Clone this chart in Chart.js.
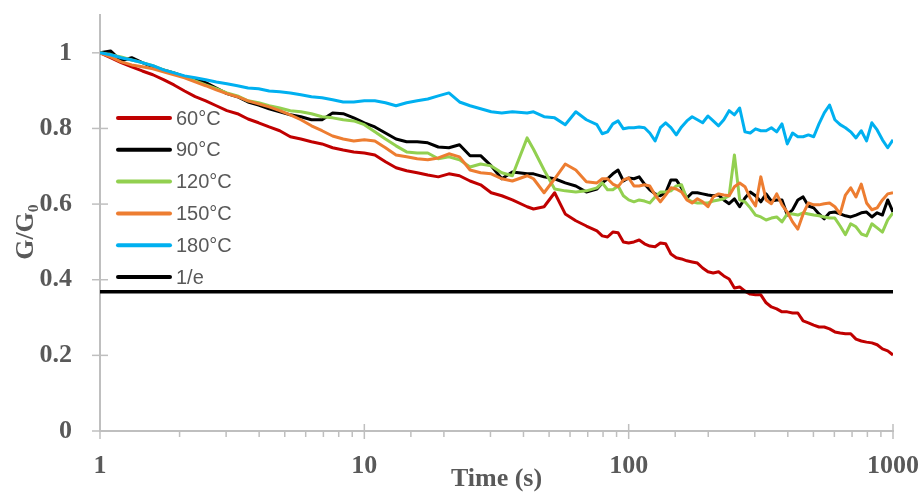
<!DOCTYPE html>
<html><head><meta charset="utf-8">
<script src="https://cdn.jsdelivr.net/npm/chart.js@4"></script>
<style>html,body{margin:0;padding:0;background:#fff}#wrap{width:924px;height:495px;position:relative}</style>
</head><body><div id="wrap"><canvas id="c"></canvas></div>
<script>
// Time (s)
const times = [1, 1.096, 1.202, 1.318, 1.445, 1.585, 1.738, 1.905, 2.089, 2.291, 2.512, 2.754, 3.020, 3.311, 3.631, 3.981, 4.365, 4.786, 5.248, 5.754, 6.310, 6.918, 7.586, 8.318, 9.120, 10, 10.96, 12.02, 13.18, 14.45, 15.85, 17.38, 19.05, 20.89, 22.91, 25.12, 27.54, 30.20, 33.11, 36.31, 41.3, 43.65, 47.86, 52.48, 57.54, 63.10, 69.18, 75.86,
  79.43, 83.18, 87.10, 91.20, 95.50, 100, 104.7, 109.6, 114.8, 120.2, 125.9, 131.8, 138.0, 144.5, 151.4, 158.5, 166.0, 173.8, 182.0, 190.5, 199.5, 208.9, 218.8, 229.1, 239.9, 251.2, 263.0, 275.4, 288.4, 302.0, 316.2, 331.1, 346.7, 363.1, 380.2, 398.1, 416.9, 436.5, 457.1, 478.6, 501.2, 524.8, 549.5, 575.4, 602.6, 631.0, 660.7, 691.8, 724.4, 758.6, 794.3, 831.8, 871.0, 912.0, 955.0, 1000];

const g60 = [1.000, 0.987, 0.974, 0.963, 0.952, 0.942, 0.929, 0.915, 0.899, 0.884, 0.873, 0.860, 0.847, 0.839, 0.825, 0.815, 0.804, 0.794, 0.778, 0.772, 0.765, 0.759, 0.749, 0.743, 0.738, 0.735, 0.730, 0.712, 0.696, 0.688, 0.683, 0.677, 0.672, 0.680, 0.675, 0.661, 0.651, 0.630, 0.622, 0.611, 0.593, 0.587, 0.593, 0.630, 0.574, 0.556, 0.542, 0.529,
  0.516, 0.513, 0.526, 0.524, 0.500, 0.497, 0.500, 0.505, 0.495, 0.489, 0.487, 0.497, 0.495, 0.468, 0.458, 0.455, 0.450, 0.447, 0.444, 0.431, 0.421, 0.418, 0.421, 0.410, 0.402, 0.378, 0.381, 0.370, 0.362, 0.360, 0.360, 0.339, 0.328, 0.323, 0.315, 0.315, 0.312, 0.312, 0.291, 0.286, 0.280, 0.275, 0.275, 0.270, 0.262, 0.259, 0.257, 0.257, 0.243, 0.238, 0.235, 0.233, 0.228, 0.217, 0.212, 0.201];

const g90 = [1.000, 1.005, 0.979, 0.987, 0.974, 0.963, 0.955, 0.947, 0.937, 0.931, 0.921, 0.907, 0.892, 0.884, 0.870, 0.862, 0.852, 0.844, 0.836, 0.831, 0.823, 0.823, 0.841, 0.839, 0.828, 0.815, 0.804, 0.788, 0.772, 0.765, 0.765, 0.762, 0.751, 0.749, 0.757, 0.728, 0.728, 0.701, 0.667, 0.685, 0.680, 0.680, 0.672, 0.667, 0.656, 0.648, 0.632, 0.640,
  0.656, 0.667, 0.680, 0.690, 0.661, 0.669, 0.667, 0.672, 0.653, 0.638, 0.627, 0.622, 0.630, 0.664, 0.664, 0.643, 0.616, 0.630, 0.630, 0.627, 0.624, 0.622, 0.624, 0.611, 0.601, 0.614, 0.593, 0.616, 0.632, 0.622, 0.606, 0.627, 0.608, 0.611, 0.611, 0.571, 0.585, 0.611, 0.619, 0.595, 0.590, 0.574, 0.561, 0.577, 0.579, 0.574, 0.569, 0.566, 0.571, 0.577, 0.579, 0.566, 0.577, 0.571, 0.611, 0.579];

const g120 = [1.000, 0.995, 0.989, 0.981, 0.974, 0.966, 0.955, 0.947, 0.937, 0.926, 0.915, 0.905, 0.894, 0.886, 0.873, 0.868, 0.860, 0.854, 0.847, 0.844, 0.839, 0.831, 0.828, 0.823, 0.820, 0.810, 0.791, 0.772, 0.754, 0.738, 0.735, 0.735, 0.720, 0.725, 0.717, 0.698, 0.706, 0.701, 0.683, 0.675, 0.775, 0.745, 0.690, 0.640, 0.635, 0.632, 0.635, 0.643,
  0.656, 0.638, 0.638, 0.648, 0.622, 0.611, 0.606, 0.611, 0.608, 0.603, 0.619, 0.632, 0.632, 0.635, 0.648, 0.651, 0.614, 0.606, 0.603, 0.603, 0.603, 0.608, 0.611, 0.614, 0.622, 0.730, 0.611, 0.606, 0.590, 0.571, 0.566, 0.558, 0.563, 0.566, 0.553, 0.574, 0.574, 0.571, 0.577, 0.574, 0.571, 0.569, 0.566, 0.563, 0.563, 0.542, 0.519, 0.548, 0.540, 0.521, 0.516, 0.548, 0.537, 0.526, 0.558, 0.577];

const g150 = [1.000, 0.989, 0.976, 0.968, 0.963, 0.958, 0.950, 0.942, 0.934, 0.923, 0.913, 0.902, 0.892, 0.884, 0.873, 0.865, 0.857, 0.847, 0.836, 0.823, 0.807, 0.794, 0.780, 0.772, 0.767, 0.770, 0.767, 0.749, 0.730, 0.725, 0.720, 0.717, 0.722, 0.733, 0.725, 0.690, 0.683, 0.680, 0.667, 0.661, 0.675, 0.667, 0.630, 0.667, 0.706, 0.690, 0.659, 0.656,
  0.667, 0.667, 0.653, 0.646, 0.664, 0.669, 0.648, 0.648, 0.651, 0.648, 0.624, 0.606, 0.624, 0.643, 0.640, 0.632, 0.611, 0.603, 0.614, 0.606, 0.593, 0.619, 0.627, 0.624, 0.622, 0.646, 0.656, 0.646, 0.616, 0.595, 0.672, 0.611, 0.601, 0.627, 0.598, 0.579, 0.553, 0.534, 0.574, 0.603, 0.598, 0.598, 0.601, 0.603, 0.593, 0.574, 0.624, 0.643, 0.619, 0.653, 0.603, 0.585, 0.590, 0.611, 0.627, 0.630];

const g180 = [1.000, 0.995, 0.987, 0.981, 0.974, 0.966, 0.955, 0.947, 0.939, 0.934, 0.929, 0.923, 0.918, 0.913, 0.907, 0.905, 0.899, 0.897, 0.894, 0.889, 0.884, 0.881, 0.876, 0.870, 0.870, 0.873, 0.873, 0.868, 0.860, 0.868, 0.873, 0.878, 0.886, 0.894, 0.870, 0.860, 0.852, 0.844, 0.841, 0.844, 0.841, 0.844, 0.831, 0.828, 0.810, 0.844, 0.823, 0.810,
  0.786, 0.791, 0.812, 0.820, 0.799, 0.802, 0.802, 0.804, 0.802, 0.788, 0.767, 0.802, 0.815, 0.802, 0.783, 0.804, 0.820, 0.831, 0.823, 0.815, 0.833, 0.820, 0.807, 0.823, 0.847, 0.836, 0.854, 0.791, 0.788, 0.799, 0.794, 0.794, 0.802, 0.791, 0.812, 0.759, 0.788, 0.778, 0.778, 0.783, 0.778, 0.812, 0.841, 0.862, 0.823, 0.810, 0.802, 0.791, 0.775, 0.794, 0.767, 0.815, 0.796, 0.770, 0.749, 0.770];

const invE = 0.368;            // 1/e reference level
const invETimes = [1, 1000];

const seriesLabels = ['60°C', '90°C', '120°C', '150°C', '180°C', '1/e'];
const yTicks = [0, 0.2, 0.4, 0.6, 0.8, 1];

const colors = ['#C00000', '#000000', '#92D050', '#ED7D31', '#00B0F0', '#000000'];
const serifFont = "'Liberation Serif', 'Times New Roman', serif";
const sansFont = "'Liberation Sans', Arial, sans-serif";

const seriesValues = [g60, g90, g120, g150, g180];
const datasets = seriesValues.map((vals, i) => ({
  label: seriesLabels[i],
  data: times.map((t, k) => ({x: t, y: vals[k]})),
  borderColor: colors[i],
  borderWidth: 3,
  pointRadius: 0,
  tension: 0,
  borderJoinStyle: 'round',
  order: 6 - i
}));
datasets.push({
  label: seriesLabels[5],
  data: invETimes.map(t => ({x: t, y: invE})),
  borderColor: colors[5],
  borderWidth: 3.5,
  pointRadius: 0,
  order: 0
});

const isDecade = v => Math.abs(Math.log10(v) - Math.round(Math.log10(v))) < 1e-9;

const tickMarks = {
  id: 'tickMarks',
  beforeDatasetsDraw(chart) {
    const {ctx, scales: {x, y}} = chart;
    ctx.save();
    ctx.strokeStyle = '#bfbfbf';
    ctx.lineWidth = 1.5;
    const ay = y.getPixelForValue(0);
    x.ticks.forEach(t => {
      const px = x.getPixelForValue(t.value);
      const major = isDecade(t.value);
      ctx.beginPath();
      ctx.moveTo(px, major ? ay - 7 : ay);
      ctx.lineTo(px, major ? ay + 8 : ay + 6);
      ctx.stroke();
    });
    const ax = x.getPixelForValue(1);
    y.ticks.forEach(t => {
      const py = y.getPixelForValue(t.value);
      ctx.beginPath();
      ctx.moveTo(ax - 8, py);
      ctx.lineTo(ax + 8, py);
      ctx.stroke();
    });
    ctx.restore();
  }
};

const insideLegend = {
  id: 'insideLegend',
  afterDatasetsDraw(chart) {
    const {ctx, chartArea: a} = chart;
    ctx.save();
    const x0 = a.left + 18, x1 = a.left + 70, tx = a.left + 76;
    const y0 = a.top + 103, step = 31.8;
    ctx.font = '20px ' + sansFont;
    ctx.textBaseline = 'middle';
    ctx.textAlign = 'left';
    chart.data.datasets.forEach((ds, i) => {
      const yy = y0 + i * step;
      ctx.strokeStyle = ds.borderColor;
      ctx.lineWidth = 4;
      ctx.lineCap = 'round';
      ctx.beginPath();
      ctx.moveTo(x0, yy);
      ctx.lineTo(x1, yy);
      ctx.stroke();
      ctx.fillStyle = '#595959';
      ctx.fillText(ds.label, tx, yy + 1);
    });
    ctx.restore();
  }
};

new Chart(document.getElementById('c'), {
  type: 'line',
  data: {datasets},
  options: {
    responsive: true,
    maintainAspectRatio: false,
    animation: false,
    devicePixelRatio: 1,
    layout: {padding: {top: 15, right: 31, left: 0, bottom: 0}},
    plugins: {legend: {display: false}, tooltip: {enabled: false}},
    scales: {
      x: {
        type: 'logarithmic',
        min: 1,
        max: 1000,
        grid: {display: false},
        border: {color: '#bfbfbf', width: 2},
        ticks: {
          autoSkip: false,
          maxRotation: 0,
          padding: 12,
          color: '#595959',
          font: {family: serifFont, size: 26, weight: 'bold'},
          callback: (v) => isDecade(v) ? String(v) : ''
        },
        title: {
          display: true,
          text: 'Time (s)',
          color: '#595959',
          font: {family: serifFont, size: 26, weight: 'bold'},
          padding: {top: 0, bottom: 0}
        },
        afterFit(s) { s.height = 64; s.paddingLeft = 0; s.paddingRight = 0; }
      },
      y: {
        min: 0,
        max: 1.1,
        afterBuildTicks(s) { s.ticks = yTicks.map(v => ({value: v})); },
        grid: {display: false},
        border: {color: '#bfbfbf', width: 2},
        ticks: {
          padding: 20,
          color: '#595959',
          font: {family: serifFont, size: 26, weight: 'bold'},
          callback: (v) => String(v)
        },
        title: {
          display: true,
          text: 'G/G₀\u2002\u2009',
          color: '#595959',
          font: {family: serifFont, size: 26, weight: 'bold'},
          padding: {top: 11, bottom: 0}
        },
        afterFit(s) { s.width = 100; s.paddingTop = 0; s.paddingBottom = 0; }
      }
    }
  },
  plugins: [tickMarks, insideLegend]
});
</script>
</body></html>
